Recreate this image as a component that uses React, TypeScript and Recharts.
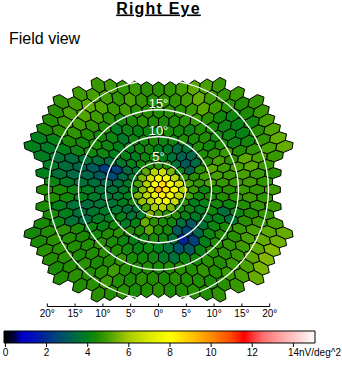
import React from 'react';
import { ScatterChart, Scatter, XAxis, YAxis, ReferenceLine, BarChart, Bar } from 'recharts';

// ---------------- data (response per hexagon, nV/deg^2), rows top -> bottom, cells left -> right
const rowN12 = [4.8, 4.9, 4.7, 4.8, 4.6, 4.6, 4.7, 4.9, 5.2, 5.0, 4.8];
const rowN11 = [4.9, 5.0, 4.9, 4.7, 5.0, 4.7, 4.6, 4.6, 4.7, 4.9, 5.3, 4.9, 4.7, 4.8];
const rowN10 = [4.7, 4.9, 5.2, 5.1, 4.8, 4.9, 4.6, 4.6, 4.5, 4.6, 4.6, 4.8, 5.2, 4.9, 4.6, 4.5, 4.7];
const rowN9 = [4.6, 5.0, 5.1, 4.9, 4.6, 4.3, 4.4, 4.6, 4.5, 4.4, 4.5, 4.6, 4.8, 4.6, 4.3, 4.2, 4.4, 4.8];
const rowN8 = [4.5, 4.8, 4.9, 4.7, 4.5, 3.9, 4.2, 4.1, 4.2, 4.3, 4.4, 4.3, 4.2, 4.5, 4.4, 4.2, 4.1, 4.3, 5.0];
const rowN7 = [4.4, 4.6, 4.7, 4.5, 4.3, 4.2, 3.8, 4.2, 4.3, 4.4, 4.2, 4.3, 4.5, 4.4, 4.5, 4.3, 4.2, 4.1, 4.6, 5.1];
const rowN6 = [4.0, 4.1, 4.4, 4.3, 4.4, 4.2, 4.0, 4.1, 4.2, 4.3, 4.0, 3.8, 3.4, 3.7, 4.5, 4.3, 4.4, 4.2, 4.3, 4.7, 5.3];
const rowN5 = [4.0, 3.8, 4.0, 4.2, 4.3, 4.2, 4.0, 4.1, 3.9, 4.2, 4.4, 4.0, 3.6, 3.2, 3.3, 4.5, 4.6, 4.8, 4.5, 4.7, 5.0, 5.3];
const rowN4 = [3.9, 3.6, 3.5, 3.6, 3.6, 3.5, 3.8, 4.0, 4.3, 4.4, 4.6, 4.5, 3.6, 3.0, 3.4, 4.6, 5.0, 4.6, 5.2, 5.0, 4.8];
const rowN3 = [3.9, 3.5, 3.3, 3.0, 2.3, 2.4, 3.4, 3.8, 5.2, 6.3, 6.6, 5.5, 4.2, 3.3, 4.6, 5.2, 4.9, 5.0, 5.2, 4.8];
const rowN2 = [4.0, 3.6, 3.4, 3.3, 3.0, 2.6, 3.3, 3.8, 5.5, 6.8, 7.9, 7.7, 6.4, 4.8, 4.6, 4.9, 5.0, 4.8, 5.0, 4.8, 4.6];
const rowN1 = [4.2, 3.8, 3.6, 3.5, 3.4, 3.5, 3.8, 5.0, 6.2, 7.8, 8.7, 7.9, 6.8, 5.0, 4.7, 5.0, 4.8, 4.8, 4.9, 4.7];
const row0 = [4.5, 4.4, 4.2, 3.9, 3.6, 3.6, 3.8, 4.2, 5.7, 6.9, 9.4, 8.5, 7.8, 6.1, 4.8, 4.2, 4.5, 4.6, 4.8, 4.7, 4.9];
const rowP1 = [4.5, 4.3, 4.0, 3.8, 3.6, 3.7, 4.0, 5.5, 6.4, 7.6, 8.3, 7.8, 6.4, 5.0, 4.3, 4.4, 4.5, 4.6, 4.8, 4.7];
const rowP2 = [4.4, 4.0, 3.6, 3.5, 3.6, 3.6, 3.9, 4.3, 5.8, 6.4, 7.3, 7.6, 6.5, 4.6, 4.0, 4.1, 4.3, 4.2, 4.5, 4.7, 4.8];
const rowP3 = [4.4, 4.0, 3.6, 3.7, 3.8, 3.7, 3.5, 3.6, 5.0, 6.0, 6.2, 5.5, 4.3, 4.2, 3.9, 4.3, 3.5, 4.2, 4.5, 4.7];
const rowP4 = [4.4, 4.2, 3.6, 3.5, 3.9, 4.0, 4.1, 3.6, 3.8, 5.5, 5.0, 4.6, 4.5, 4.1, 3.8, 3.9, 4.0, 3.6, 4.6, 4.8, 5.0];
const rowP5 = [4.3, 4.5, 4.6, 4.4, 4.2, 4.1, 4.3, 3.8, 4.1, 5.3, 4.6, 4.4, 4.3, 3.5, 2.9, 3.6, 4.2, 4.4, 4.8, 5.0, 5.2, 5.3];
const rowP6 = [4.4, 4.6, 4.5, 4.4, 4.3, 4.5, 4.6, 4.4, 4.5, 5.2, 4.5, 4.3, 3.0, 2.6, 3.3, 4.2, 4.5, 4.6, 5.0, 5.3, 5.4];
const rowP7 = [4.6, 4.6, 4.5, 4.5, 4.6, 4.4, 4.2, 4.1, 4.2, 4.4, 4.2, 3.6, 1.8, 2.4, 4.0, 4.5, 4.7, 4.9, 5.2, 5.6];
const rowP8 = [4.5, 4.6, 4.4, 4.5, 4.6, 4.5, 4.3, 4.1, 4.2, 4.0, 3.6, 2.8, 3.0, 4.1, 4.5, 4.6, 4.8, 5.2, 5.6];
const rowP9 = [4.4, 4.5, 4.6, 4.4, 4.5, 4.7, 4.4, 4.3, 4.2, 3.8, 3.6, 4.2, 4.3, 4.6, 4.5, 4.8, 5.0, 5.5];
const rowP10 = [4.5, 4.6, 4.5, 4.6, 4.9, 4.5, 4.4, 4.5, 4.4, 4.5, 4.6, 4.5, 4.7, 4.5, 4.8, 5.0, 5.3];
const rowP11 = [4.5, 4.6, 4.8, 4.5, 4.4, 4.6, 4.5, 4.4, 4.6, 4.5, 4.5, 4.4, 4.6, 4.8];
const rowP12 = [4.6, 4.5, 4.6, 4.4, 4.5, 4.6, 4.4, 4.5, 4.6, 4.5, 4.7];

const fieldRows = [
  rowN12, rowN11, rowN10, rowN9, rowN8, rowN7, rowN6, rowN5, rowN4, rowN3, rowN2, rowN1, row0,
  rowP1, rowP2, rowP3, rowP4, rowP5, rowP6, rowP7, rowP8, rowP9, rowP10, rowP11, rowP12,
];

const axisTicks = [-20, -15, -10, -5, 0, 5, 10, 15, 20];
const ringRadii = [4.86, 9.53, 14.39, 19.78];
const ringLabels = ['5°', '10°', '15°', ''];
const scaleTicks = [0, 2, 4, 6, 8, 10, 12, 14];
const scaleUnit = 'nV/deg^2';
const stopValues = [0, 0.4, 0.8, 1.5, 2.0, 2.5, 3.0, 3.5, 4.0, 4.5, 5.0, 5.5, 6.0, 7.0, 8.0, 9.0, 10.0, 11.0, 11.6, 12.5, 13.5, 14.5, 15.05];
const stopColors = ['#000000', '#00003c', '#0000c8', '#0014b4', '#002d8c', '#004678', '#005a5a', '#006e3c', '#00801a', '#208c00', '#46a000', '#78b400', '#a8cc00', '#dcea00', '#ffff00', '#ffc800', '#ff8c00', '#ff4600', '#ff0000', '#ff6e6e', '#ffaaaa', '#ffdede', '#ffffff'];

// ---------------- layout
const FONT = "'Liberation Sans', Arial, Helvetica, sans-serif";
const X_MIN = -25, X_MAX = 25, Y_MIN = -21, Y_MAX = 23;
const M_LEFT = 19.5, M_RIGHT = 44.5;
const PLOT_W = 342 - M_LEFT - M_RIGHT;
const K = PLOT_W / (X_MAX - X_MIN); // px per degree
const PLOT_H = (Y_MAX - Y_MIN) * K;
const PLOT_BOTTOM = 306.5;
const X_AXIS_H = 20;
const M_TOP = PLOT_BOTTOM - PLOT_H;
const M_BOTTOM = 366 - PLOT_BOTTOM - X_AXIS_H;

// stimulus warp (hexagons scale with eccentricity, wider horizontally)
const WA = 0.6, WB = 0.0222, WSX = 1.2;
const SQ3 = Math.sqrt(3);
const HEX_CORNERS = [[0, 1], [SQ3 / 2, 0.5], [SQ3 / 2, -0.5], [0, -1], [-SQ3 / 2, -0.5], [-SQ3 / 2, 0.5]];
const warp = (ux: number, uy: number): [number, number] => {
  const f = WA + WB * Math.hypot(ux, uy);
  return [WSX * f * ux, f * uy];
};

const cells = fieldRows.flatMap((vals, ri) => {
  const r = ri - (fieldRows.length - 1) / 2;
  const n = vals.length;
  return vals.map((v, i) => {
    const ux = SQ3 * (i - (n - 1) / 2);
    const uy = -1.5 * r;
    const [x, y] = warp(ux, uy);
    const poly = HEX_CORNERS.map(([dx, dy]) => {
      const [px, py] = warp(ux + dx, uy + dy);
      return [px - x, py - y];
    });
    return { x, y, value: v, poly };
  });
});

const rings = ringRadii.map((r, i) => ({ x: 0, y: 0, r, label: ringLabels[i] }));

const hexToRgb = (h: string) => [1, 3, 5].map((o) => parseInt(h.slice(o, o + 2), 16));
const valueToColor = (v: number) => {
  if (v <= stopValues[0]) return stopColors[0];
  for (let i = 1; i < stopValues.length; i++) {
    if (v <= stopValues[i]) {
      const t = (v - stopValues[i - 1]) / (stopValues[i] - stopValues[i - 1]);
      const a = hexToRgb(stopColors[i - 1]);
      const b = hexToRgb(stopColors[i]);
      const c = a.map((ai, k) => Math.round(ai + (b[k] - ai) * t));
      return `rgb(${c[0]},${c[1]},${c[2]})`;
    }
  }
  return stopColors[stopColors.length - 1];
};

const HexShape = (props: any) => {
  const { cx, cy, payload } = props;
  const pts = payload.poly.map(([dx, dy]: number[]) => `${cx + dx * K},${cy - dy * K}`).join(' ');
  return <polygon points={pts} fill={valueToColor(payload.value)} stroke="#000" strokeWidth={1} strokeLinejoin="round" />;
};

const RingShape = (props: any) => {
  const { cx, cy, payload } = props;
  const rr = payload.r * K;
  return (
    <g>
      <circle cx={cx} cy={cy} r={rr} fill="none" stroke="#fff" strokeWidth={1.3} />
      {payload.label ? (
        <text x={cx} y={cy - rr - 2} textAnchor="middle" fill="#fff" fontFamily={FONT} fontSize={13}>{payload.label}</text>
      ) : null}
    </g>
  );
};

const AxisTick = (props: any) => {
  const { x, y, payload } = props;
  return (
    <g>
      <line x1={x} y1={y - 3} x2={x} y2={y} stroke="#000" strokeWidth={1} />
      <text x={x} y={y + 3.5} dy="0.71em" textAnchor="middle" fill="#000" fontFamily={FONT} fontSize={10}>{`${Math.abs(payload.value)}°`}</text>
    </g>
  );
};

const CB_MIN = -0.07, CB_MAX = 15.05;
const scaleBar = [{ name: 'scale', range: [CB_MIN, CB_MAX] }];
const ScaleTick = (props: any) => {
  const { x, y, payload } = props;
  const last = payload.value === scaleTicks[scaleTicks.length - 1];
  return (
    <g>
      <line x1={x} y1={y} x2={x} y2={y + 4} stroke="#000" strokeWidth={1} />
      <text x={last ? x - 5.5 : x} y={y + 6} dy="0.71em" textAnchor={last ? 'start' : 'middle'} fill="#000" fontFamily={FONT} fontSize={10}>
        {last ? `${payload.value}${scaleUnit}` : `${payload.value}`}
      </text>
    </g>
  );
};

export default function App() {
  return (
    <div style={{ position: 'absolute', left: 0, top: 0, width: 342, height: 366, background: '#fff' }}>
      <svg width={342} height={60} style={{ position: 'absolute', left: 0, top: 0 }}>
        <text x={158.5} y={13.5} textAnchor="middle" fontFamily={FONT} fontSize={16} fontWeight="bold" letterSpacing={1.2}
          style={{ textDecoration: 'underline', textDecorationSkipInk: 'none' } as any}>Right Eye</text>
        <text x={9} y={44} fontFamily={FONT} fontSize={16} fill="#000">Field view</text>
      </svg>
      <div style={{ position: 'absolute', left: 0, top: 0 }}>
        <ScatterChart width={342} height={366} margin={{ top: M_TOP, right: M_RIGHT, bottom: M_BOTTOM, left: M_LEFT }}>
          <XAxis type="number" dataKey="x" domain={[X_MIN, X_MAX]} ticks={axisTicks} interval={0} height={X_AXIS_H}
            tickLine={false} axisLine={false} tickSize={0} tickMargin={0} tick={(p: any) => <AxisTick {...p} />} />
          <YAxis type="number" dataKey="y" domain={[Y_MIN, Y_MAX]} hide />
          <Scatter data={cells} isAnimationActive={false} shape={(p: any) => <HexShape {...p} />} />
          <Scatter data={rings} isAnimationActive={false} shape={(p: any) => <RingShape {...p} />} />
          <ReferenceLine segment={[{ x: axisTicks[0], y: Y_MIN }, { x: axisTicks[axisTicks.length - 1], y: Y_MIN }]}
            stroke="#000" strokeWidth={1} ifOverflow="visible" />
        </ScatterChart>
      </div>
      <div style={{ position: 'absolute', left: 0, top: 325 }}>
        <BarChart layout="vertical" width={342} height={40} margin={{ top: 6, right: 27, bottom: 2, left: 4 }}
          data={scaleBar} barCategoryGap={0} barGap={0}>
          <defs>
            <linearGradient id="cbGrad" x1="0" y1="0" x2="1" y2="0">
              {stopValues.map((v, i) => (
                <stop key={i} offset={(v - CB_MIN) / (CB_MAX - CB_MIN)} stopColor={stopColors[i]} />
              ))}
            </linearGradient>
          </defs>
          <XAxis type="number" domain={[CB_MIN, CB_MAX]} ticks={scaleTicks} interval={0} height={20}
            tickLine={false} axisLine={false} tickSize={0} tickMargin={0} tick={(p: any) => <ScaleTick {...p} />} />
          <YAxis type="category" dataKey="name" hide />
          <Bar dataKey="range" fill="url(#cbGrad)" stroke="#000" strokeWidth={1} isAnimationActive={false} />
        </BarChart>
      </div>
    </div>
  );
}
